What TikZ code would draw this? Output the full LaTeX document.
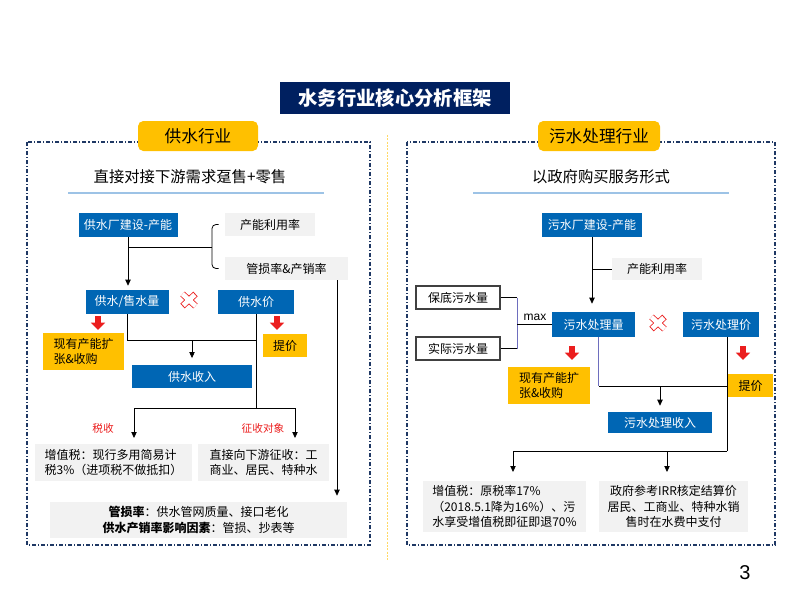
\documentclass[tikz,border=0pt]{standalone}
\usepackage{fontspec}
\setmainfont{Noto Sans CJK SC}
\newfontfamily\arialfont{Liberation Sans}
\usetikzlibrary{arrows.meta}
\definecolor{titlenavy}{RGB}{0,32,96}
\definecolor{boxblue}{RGB}{0,102,180}
\definecolor{boxgold}{RGB}{255,192,0}
\definecolor{boxgray}{RGB}{242,242,242}
\definecolor{framenavy}{RGB}{31,56,100}
\definecolor{rulelineblue}{RGB}{157,195,230}
\definecolor{sepyellow}{RGB}{255,217,102}
\definecolor{markred}{RGB}{235,30,30}
\definecolor{linkpurple}{RGB}{110,110,190}

\begin{document}
\begin{tikzpicture}[x=0.75pt,y=0.75pt,yscale=-1,xscale=1,
    boxfont/.style={font=\fontsize{9}{11.5}\selectfont},
    bluebox/.style={boxfont, fill=boxblue, text=white, minimum height=18pt, inner sep=1pt},
    graybox/.style={boxfont, fill=boxgray, inner sep=1pt},
    goldbox/.style={boxfont, fill=boxgold, inner sep=1pt},
    whitebox/.style={boxfont, draw=black!75, line width=0.8pt, fill=white, inner sep=1pt},
    tagbox/.style={fill=boxgold, rounded corners=4pt, minimum height=22.5pt, font=\fontsize{12.5}{14}\selectfont},
    panelbox/.style={draw=framenavy, line width=0.8pt, dash pattern=on 3pt off 1.5pt on 0.8pt off 1.5pt},
    link/.style={line width=0.6pt},
    linkarrow/.style={link, -{Triangle[length=4.5pt,width=4pt]}},
    redarrow/.style={draw=markred, line width=4.2pt, -{Triangle[length=5.5pt,width=10.5pt]}},
    xout/.style={draw=markred, line width=4.8pt},
    xin/.style={draw=white, line width=3.6pt, shorten <=0.7pt, shorten >=0.7pt},
    redlabel/.style={text=markred, font=\fontsize{8}{10}\selectfont}
  ]
  \useasboundingbox (0,0) rectangle (800,600);

  % Title
  \node[fill=titlenavy, text=white, minimum width=172.5pt, minimum height=24pt, font=\fontsize{14.5}{16}\selectfont\bfseries] (title) at (395,98) {水务行业核心分析框架};

  %Frames
  \draw[panelbox] (27,142) rectangle (370,545);
  \draw[panelbox] (407,142) rectangle (775,545);
  \draw[draw=sepyellow, line width=0.6pt, dash pattern=on 1.5pt off 1pt] (387,135) -- (387,560);

  % Text Node
  \node[tagbox, minimum width=90pt] (tagL) at (198,136) {供水行业};
  \node[tagbox, minimum width=91.5pt] (tagR) at (599,136) {污水处理行业};
  \node[font=\fontsize{11.5}{13}\selectfont] (subL) at (190,177) {直接对接下游需求趸售+零售};
  \node[font=\fontsize{11.5}{13}\selectfont] (subR) at (601,177) {以政府购买服务形式};
  \draw[draw=rulelineblue, line width=1.2pt] (68,193) -- (324,193);
  \draw[draw=rulelineblue, line width=1.2pt] (473,193) -- (729,193);

  %Left side boxes
  \node[bluebox, minimum width=74.25pt] (plantL) at (128,225) {供水厂建设-产能};
  \node[graybox, minimum width=67.5pt, minimum height=17.25pt] (utilL) at (270,224.5) {产能利用率};
  \node[graybox, minimum width=92.25pt, minimum height=17.25pt] (lossL) at (286.5,268.5) {管损率\&产销率};
  \node[bluebox, minimum width=62.25pt] (volL) at (127,302) {供水/售水量};
  \node[bluebox, minimum width=57pt] (priceL) at (256,302) {供水价};
  \node[goldbox, minimum width=60.75pt, minimum height=27.75pt, align=left] (expandL) at (83.5,351.5) {现有产能扩\\张\&收购};
  \node[goldbox, minimum width=33pt, minimum height=17.25pt] (raiseL) at (285,345.5) {提价};
  \node[bluebox, minimum width=90pt, minimum height=17.25pt] (incomeL) at (192,376.5) {供水收入};
  \node[redlabel] (taxtagL) at (103,428) {税收};
  \node[redlabel] (objtagL) at (263,428) {征收对象};
  \node[graybox, minimum width=117.75pt, minimum height=27.75pt, align=left] (taxL) at (113.5,462.5) {增值税：现行多用简易计\\税3\%（进项税不做抵扣）};
  \node[graybox, minimum width=98.25pt, minimum height=27.75pt, align=left] (objL) at (263.5,462.5) {直接向下游征收：工\\商业、居民、特种水};
  \node[graybox, minimum width=222.75pt, minimum height=27pt, align=center] (noteL) at (198.5,520) {\textbf{管损率}：供水管网质量、接口老化\\\textbf{供水产销率影响因素}：管损、抄表等};

  %Left side lines
  \coordinate (braceL) at (212,247);
  \coordinate (joinL) at (256,340);
  \coordinate (forkL) at (256,408);
  \coordinate (taxinL) at (134,444);
  \coordinate (objinL) at (295,444);
  \coordinate (lossoutL) at (337,280);
  \draw[link] (plantL.south |- braceL) -- (braceL);
  \draw[link, rounded corners=3pt] ([xshift=-4.5pt]utilL.west) -| (braceL) |- ([xshift=-4.5pt]lossL.west);
  \draw[linkarrow, shorten >=3pt] (plantL.south) -- (plantL.south |- volL.north);
  \draw[link] (volL.south) |- (joinL);
  \draw[link] (priceL.south) -- (forkL);
  \draw[linkarrow, shorten >=5pt] (incomeL.north |- joinL) -- (incomeL.north);
  \draw[linkarrow, shorten >=4.5pt] (forkL) -| (taxinL);
  \draw[linkarrow, shorten >=4.5pt] (forkL) -| (objinL);
  \draw[linkarrow, shorten >=4.5pt] (lossoutL) -- (lossoutL |- noteL.north);

  %Right side boxes
  \node[bluebox, minimum width=75pt] (plantR) at (592,225) {污水厂建设-产能};
  \node[graybox, minimum width=67.5pt, minimum height=16.5pt] (utilR) at (657,269) {产能利用率};
  \node[whitebox, minimum width=63pt, minimum height=17.25pt] (minR) at (458,297.5) {保底污水量};
  \node[whitebox, minimum width=63pt, minimum height=17.25pt] (actR) at (458,348.5) {实际污水量};
  \node[font=\arialfont\fontsize{9}{10}\selectfont] (maxR) at (535,317) {max};
  \node[bluebox, minimum width=62.25pt, minimum height=18.75pt] (volR) at (593.5,324.5) {污水处理量};
  \node[bluebox, minimum width=57pt, minimum height=18.75pt] (priceR) at (721,324.5) {污水处理价};
  \node[goldbox, minimum width=61.5pt, minimum height=27.75pt, align=left] (expandR) at (549,385.5) {现有产能扩\\张\&收购};
  \node[goldbox, minimum width=33.75pt, minimum height=17.25pt] (raiseR) at (750.5,385.5) {提价};
  \node[bluebox, minimum width=78pt, minimum height=15.75pt] (incomeR) at (660,422.5) {污水处理收入};
  \node[graybox, minimum width=122.25pt, minimum height=38.25pt, align=left] (taxR) at (504.5,506.5) {增值税：原税率17\%\\（2018.5.1降为16\%）、污\\水享受增值税即征即退70\%};
  \node[graybox, minimum width=111.75pt, minimum height=38.25pt, align=center] (payR) at (673.5,506.5) {政府参考IRR核定结算价\\居民、工商业、特种水销\\售时在水费中支付};

  %Right side lines
  \coordinate (maxjoinR) at (517,324.5);
  \coordinate (joinR) at (727,386);
  \coordinate (forkR) at (727,451);
  \coordinate (taxinR) at (513,481);
  \coordinate (payinR) at (667,481);
  \draw[linkarrow, shorten >=6pt] (plantR.south) -- (plantR.south |- volR.north);
  \draw[link] (plantR.south |- utilR.west) -- (utilR.west);
  \draw[link] (minR.east) -- (minR.east -| maxjoinR);
  \draw[link] (actR.east) -- (actR.east -| maxjoinR);
  \draw[link, draw=linkpurple] (minR.east -| maxjoinR) -- (actR.east -| maxjoinR);
  \draw[link] (maxjoinR) -- (volR.west);
  \draw[link, draw=linkpurple] ([xshift=4pt]volR.south) -- ([xshift=4pt]volR.south |- joinR);
  \draw[link] ([xshift=4pt]volR.south |- joinR) -- (joinR);
  \draw[link] ([xshift=4.5pt]priceR.south) -- (forkR);
  \draw[linkarrow, shorten >=4.5pt] (incomeR.north |- joinR) -- (incomeR.north);
  \draw[linkarrow, shorten >=6.75pt] (forkR) -| (taxinR);
  \draw[linkarrow, shorten >=6.75pt] (forkR) -| (payinR);

  %Red marks
  \draw[redarrow] (98,316) -- (98,330);
  \draw[redarrow] (277,316) -- (277,330);
  \draw[redarrow] (572,346) -- (572,360);
  \draw[redarrow] (743,346) -- (743,360);
  \draw[xout] (182.5,294) -- (195.5,306) (182.5,306) -- (195.5,294);
  \draw[xin] (182.5,294) -- (195.5,306) (182.5,306) -- (195.5,294);
  \draw[xout] (651.5,317) -- (664.5,329) (651.5,329) -- (664.5,317);
  \draw[xin] (651.5,317) -- (664.5,329) (651.5,329) -- (664.5,317);

  % Text Node
  \node[font=\arialfont\fontsize{15}{15}\selectfont] (pagenum) at (745,573) {3};

\end{tikzpicture}
\end{document}
